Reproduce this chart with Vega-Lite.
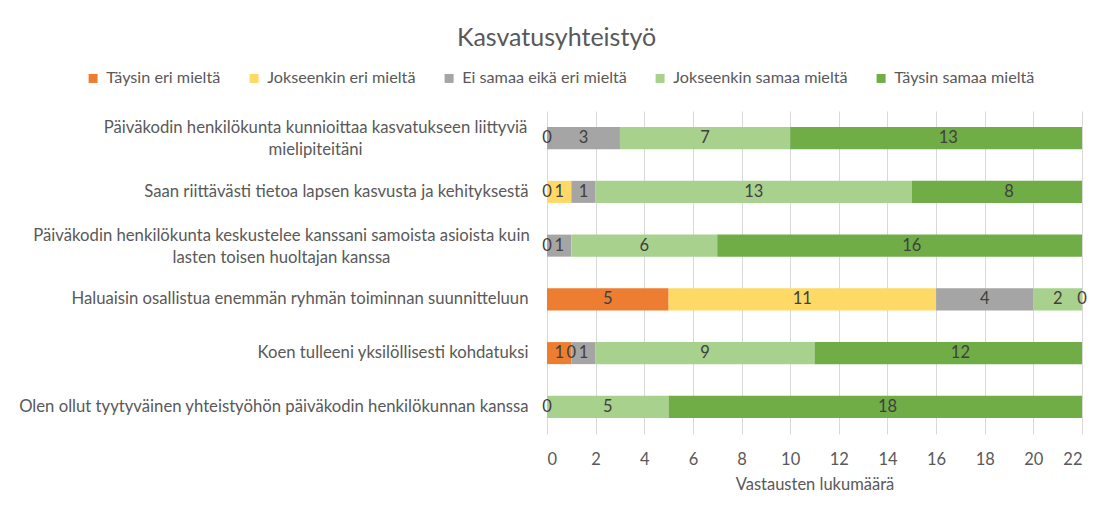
{
  "$schema": "https://vega.github.io/schema/vega-lite/v6.json",
  "width": 535,
  "height": 323,
  "autosize": {"type": "none"},
  "padding": {"left": 547, "top": 111, "right": 17, "bottom": 74},
  "background": "white",
  "title": {"text": "Kasvatusyhteistyö", "fontSize": 25, "fontWeight": "normal", "color": "#595959", "font": "Lato", "anchor": "middle", "frame": "bounds", "offset": 19, "dx": 4},
  "config": {
    "font": "Lato",
    "view": {"stroke": null},
    "axis": {"labelFont": "Lato", "titleFont": "Lato"}
  },
  "data": {
    "values": [
      {"q": "Päiväkodin henkilökunta kunnioittaa kasvatukseen liittyviä|mielipiteitäni", "qi": 1, "cat": "Jokseenkin eri mieltä", "ord": 2, "value": 0},
      {"q": "Päiväkodin henkilökunta kunnioittaa kasvatukseen liittyviä|mielipiteitäni", "qi": 1, "cat": "Ei samaa eikä eri mieltä", "ord": 3, "value": 3},
      {"q": "Päiväkodin henkilökunta kunnioittaa kasvatukseen liittyviä|mielipiteitäni", "qi": 1, "cat": "Jokseenkin samaa mieltä", "ord": 4, "value": 7},
      {"q": "Päiväkodin henkilökunta kunnioittaa kasvatukseen liittyviä|mielipiteitäni", "qi": 1, "cat": "Täysin samaa mieltä", "ord": 5, "value": 13},
      {"q": "Saan riittävästi tietoa lapsen kasvusta ja kehityksestä", "qi": 2, "cat": "Täysin eri mieltä", "ord": 1, "value": 0},
      {"q": "Saan riittävästi tietoa lapsen kasvusta ja kehityksestä", "qi": 2, "cat": "Jokseenkin eri mieltä", "ord": 2, "value": 1},
      {"q": "Saan riittävästi tietoa lapsen kasvusta ja kehityksestä", "qi": 2, "cat": "Ei samaa eikä eri mieltä", "ord": 3, "value": 1},
      {"q": "Saan riittävästi tietoa lapsen kasvusta ja kehityksestä", "qi": 2, "cat": "Jokseenkin samaa mieltä", "ord": 4, "value": 13},
      {"q": "Saan riittävästi tietoa lapsen kasvusta ja kehityksestä", "qi": 2, "cat": "Täysin samaa mieltä", "ord": 5, "value": 8},
      {"q": "Päiväkodin henkilökunta keskustelee kanssani samoista asioista kuin|lasten toisen huoltajan kanssa", "qi": 3, "cat": "Jokseenkin eri mieltä", "ord": 2, "value": 0},
      {"q": "Päiväkodin henkilökunta keskustelee kanssani samoista asioista kuin|lasten toisen huoltajan kanssa", "qi": 3, "cat": "Ei samaa eikä eri mieltä", "ord": 3, "value": 1},
      {"q": "Päiväkodin henkilökunta keskustelee kanssani samoista asioista kuin|lasten toisen huoltajan kanssa", "qi": 3, "cat": "Jokseenkin samaa mieltä", "ord": 4, "value": 6},
      {"q": "Päiväkodin henkilökunta keskustelee kanssani samoista asioista kuin|lasten toisen huoltajan kanssa", "qi": 3, "cat": "Täysin samaa mieltä", "ord": 5, "value": 16},
      {"q": "Haluaisin osallistua enemmän ryhmän toiminnan suunnitteluun", "qi": 4, "cat": "Täysin eri mieltä", "ord": 1, "value": 5},
      {"q": "Haluaisin osallistua enemmän ryhmän toiminnan suunnitteluun", "qi": 4, "cat": "Jokseenkin eri mieltä", "ord": 2, "value": 11},
      {"q": "Haluaisin osallistua enemmän ryhmän toiminnan suunnitteluun", "qi": 4, "cat": "Ei samaa eikä eri mieltä", "ord": 3, "value": 4},
      {"q": "Haluaisin osallistua enemmän ryhmän toiminnan suunnitteluun", "qi": 4, "cat": "Jokseenkin samaa mieltä", "ord": 4, "value": 2},
      {"q": "Haluaisin osallistua enemmän ryhmän toiminnan suunnitteluun", "qi": 4, "cat": "Täysin samaa mieltä", "ord": 5, "value": 0},
      {"q": "Koen tulleeni yksilöllisesti kohdatuksi", "qi": 5, "cat": "Täysin eri mieltä", "ord": 1, "value": 1},
      {"q": "Koen tulleeni yksilöllisesti kohdatuksi", "qi": 5, "cat": "Jokseenkin eri mieltä", "ord": 2, "value": 0},
      {"q": "Koen tulleeni yksilöllisesti kohdatuksi", "qi": 5, "cat": "Ei samaa eikä eri mieltä", "ord": 3, "value": 1},
      {"q": "Koen tulleeni yksilöllisesti kohdatuksi", "qi": 5, "cat": "Jokseenkin samaa mieltä", "ord": 4, "value": 9},
      {"q": "Koen tulleeni yksilöllisesti kohdatuksi", "qi": 5, "cat": "Täysin samaa mieltä", "ord": 5, "value": 12},
      {"q": "Olen ollut tyytyväinen yhteistyöhön päiväkodin henkilökunnan kanssa", "qi": 6, "cat": "Ei samaa eikä eri mieltä", "ord": 3, "value": 0},
      {"q": "Olen ollut tyytyväinen yhteistyöhön päiväkodin henkilökunnan kanssa", "qi": 6, "cat": "Jokseenkin samaa mieltä", "ord": 4, "value": 5},
      {"q": "Olen ollut tyytyväinen yhteistyöhön päiväkodin henkilökunnan kanssa", "qi": 6, "cat": "Täysin samaa mieltä", "ord": 5, "value": 18}
    ]
  },
  "transform": [
    {"stack": "value", "groupby": ["q"], "sort": [{"field": "ord"}], "as": ["x0", "x1"]},
    {"calculate": "(datum.x0 + datum.x1) / 2", "as": "mid"}
  ],
  "encoding": {
    "y": {
      "field": "q",
      "type": "nominal",
      "sort": {"field": "qi"},
      "scale": {"paddingInner": 0.59, "paddingOuter": 0.3},
      "axis": {
        "title": null,
        "domain": false,
        "ticks": false,
        "labelFontSize": 16.7,
        "labelColor": "#595959",
        "labelLimit": 600,
        "labelLineHeight": 22,
        "labelExpr": "split(datum.label, '|')",
        "labelAlign": {"condition": {"test": "indexof(datum.value, '|') >= 0", "value": "center"}, "value": "right"},
        "labelOffset": {"condition": {"test": "indexof(datum.value, '|') >= 0", "value": -10}, "value": 0},
        "labelPadding": {"condition": [
          {"test": "indexof(datum.value, 'kunnioittaa') >= 0", "value": 232},
          {"test": "indexof(datum.value, 'keskustelee') >= 0", "value": 266}
        ], "value": 19}
      }
    }
  },
  "layer": [
    {
      "mark": {"type": "bar", "clip": true},
      "encoding": {
        "x": {
          "field": "x0",
          "type": "quantitative",
          "scale": {"domain": [0, 22], "nice": false},
          "axis": {
            "title": "Vastausten lukumäärä",
            "titleFontSize": 16.5,
            "titleFontWeight": "normal",
            "titleColor": "#595959",
            "titlePadding": 9,
            "values": [0, 2, 4, 6, 8, 10, 12, 14, 16, 18, 20, 22],
            "domain": false,
            "ticks": false,
            "labelFontSize": 16.5,
            "labelColor": "#595959",
            "labelPadding": 17,
            "grid": true,
            "gridColor": "#D9D9D9",
            "gridWidth": 1
          }
        },
        "x2": {"field": "x1"},
        "color": {
          "field": "cat",
          "type": "nominal",
          "scale": {
            "domain": ["Täysin eri mieltä", "Jokseenkin eri mieltä", "Ei samaa eikä eri mieltä", "Jokseenkin samaa mieltä", "Täysin samaa mieltä"],
            "range": ["#ED7D31", "#FFD966", "#A5A5A5", "#A9D18E", "#70AD47"]
          },
          "legend": {
            "title": null,
            "orient": "none",
            "legendX": -462,
            "legendY": -41,
            "direction": "horizontal",
            "columns": 5,
            "columnPadding": 25,
            "symbolType": "square",
            "symbolSize": 81,
            "symbolStrokeWidth": 0,
            "labelFontSize": 16.2,
            "labelColor": "#595959",
            "labelOffset": 5,
            "labelLimit": 300
          }
        }
      }
    },
    {
      "mark": {"type": "text", "fontSize": 16.5, "color": "#404040", "baseline": "middle", "align": "center"},
      "encoding": {
        "x": {"field": "mid", "type": "quantitative"},
        "text": {"field": "value", "type": "quantitative"}
      }
    }
  ]
}
